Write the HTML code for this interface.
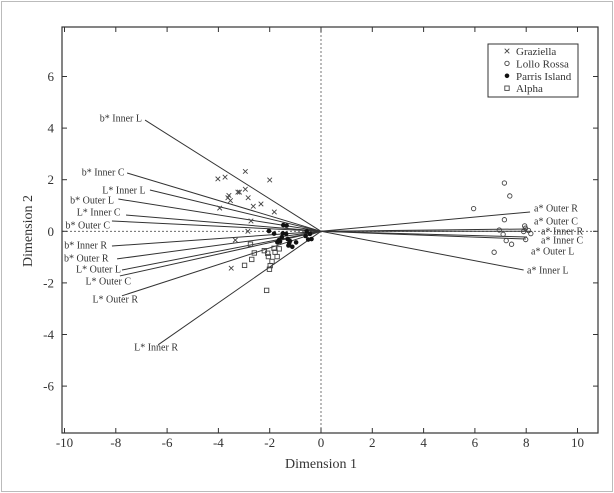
<!DOCTYPE html>
<html><head><meta charset="utf-8"><style>
html,body{margin:0;padding:0;background:#fff;}
svg{display:block;font-family:"Liberation Serif",serif;}
</style></head><body>
<svg id="chart" width="614" height="493" viewBox="0 0 614 493">
<rect x="1.5" y="1.5" width="611" height="490" fill="#fff" stroke="#bbb"/>
<g id="layer"></g>
</svg>
<script>
const xTicks=[-10,-8,-6,-4,-2,0,2,4,6,8,10];
const yTicks=[-6,-4,-2,0,2,4,6];
const vecNames=["b* Inner L","b* Inner C","L* Inner L","b* Outer L","L* Inner C","b* Outer C","b* Inner R","b* Outer R","L* Outer L","L* Outer C","L* Outer R","L* Inner R","a* Outer R","a* Outer C","a* Inner R","a* Inner C","a* Outer L","a* Inner L"];
const vecX=[-6.86,-7.56,-6.67,-7.9,-7.6,-8.15,-8.15,-7.95,-7.76,-7.84,-7.76,-6.35,8.15,8.03,8.15,8.03,7.99,7.9];
const vecY=[4.31,2.26,1.6,1.25,0.63,0.4,-0.57,-1.07,-1.5,-1.73,-2.5,-4.4,0.75,0.09,0,-0.22,-0.3,-1.5];
// label placement (layout, pixels): anchor x and vertical centre
const labelPX=[142,124.5,145.6,114,120.6,110,107,108.5,121,131,138,178,534,534,541,541,531,527];
const labelPY=[118,172,190,200,212,225,245,258,269,281,299,347,208,221,231,240,251,270];
const grazX=[-4.02,-3.74,-2.95,-2.0,-3.59,-3.63,-3.53,-3.24,-3.18,-2.95,-2.84,-2.34,-2.64,-1.82,-3.95,-2.73,-2.85,-3.34,-3.5];
const grazY=[2.03,2.1,2.32,1.99,1.39,1.3,1.19,1.52,1.52,1.63,1.3,1.06,0.97,0.75,0.9,0.4,0,-0.34,-1.43];
const lolloX=[7.15,7.36,5.95,7.15,6.95,7.1,7.22,7.43,6.75,7.94,7.97,7.9,8.09,8.18,7.98];
const lolloY=[1.87,1.37,0.88,0.45,0.05,-0.12,-0.36,-0.5,-0.81,0.21,0.12,-0.01,0.03,-0.09,-0.32];
const parrisX=[-1.47,-1.34,-2.03,-1.83,-1.49,-1.36,-1.53,-1.64,-1.3,-1.21,-1.7,-1.6,-1.24,-1.12,-1.27,-0.97,-0.56,-0.43,-0.37,-0.6,-0.5];
const parrisY=[0.24,0.22,0.01,-0.09,-0.08,-0.1,-0.23,-0.34,-0.3,-0.38,-0.43,-0.4,-0.47,-0.6,-0.55,-0.43,0,-0.1,-0.3,-0.18,-0.32];
const alphaX=[-2.75,-2.6,-2.98,-2.7,-2.21,-2.08,-2.05,-1.83,-1.79,-1.63,-1.71,-1.91,-1.98,-2.01,-2.12];
const alphaY=[-0.5,-0.84,-1.32,-1.09,-0.75,-0.85,-0.98,-0.66,-0.81,-0.68,-0.98,-1.17,-1.33,-1.47,-2.29];
const legendLabels=["Graziella","Lollo Rossa","Parris Island","Alpha"];

const L=62,R=598,T=27,B=433;
function sx(v){return 321+v*25.65;}
function sy(v){return 231.3-v*25.8;}
const NS="http://www.w3.org/2000/svg";
const g=document.getElementById("layer");
function mk(tag,attrs,parent){const e=document.createElementNS(NS,tag);for(const k in attrs)e.setAttribute(k,attrs[k]);(parent||g).appendChild(e);return e;}

let fr=mk("rect",{x:L,y:T,width:R-L,height:B-T,fill:"none",stroke:"#333","stroke-width":1.2});


let zx=mk("line",{x1:sx(0),x2:sx(0),y1:T,y2:B,stroke:"#555","stroke-dasharray":"2,2","stroke-width":0.8});


let zy=mk("line",{x1:L,x2:R,y1:sy(0),y2:sy(0),stroke:"#555","stroke-dasharray":"2,2","stroke-width":0.8});



xTicks.forEach(v=>{
 const x=sx(v);
 let t1=mk("line",{x1:x,x2:x,y1:B,y2:B-5,stroke:"#333"});
 
 
 let t2=mk("line",{x1:x,x2:x,y1:T,y2:T+5,stroke:"#333"});
 
 
 let tx=mk("text",{x:x,y:447,"text-anchor":"middle","font-size":13,fill:"#333"});
 tx.textContent=String(v);
 
 
});
yTicks.forEach(v=>{
 const y=sy(v);
 let t1=mk("line",{x1:L,x2:L+5,y1:y,y2:y,stroke:"#333"});
 
 
 let t2=mk("line",{x1:R,x2:R-5,y1:y,y2:y,stroke:"#333"});
 
 
 let tx=mk("text",{x:54,y:y+4.5,"text-anchor":"end","font-size":13,fill:"#333"});
 tx.textContent=String(v);
 
 
});

vecNames.forEach((n,i)=>{
 const x=sx(vecX[i]),y=sy(vecY[i]);
 let ln=mk("line",{x1:sx(0),y1:sy(0),x2:x,y2:y,stroke:"#333","stroke-width":1});
 
 
 const left=vecX[i]<0;
 let tx=mk("text",{x:labelPX[i],y:labelPY[i]+3.5,"text-anchor":left?"end":"start","font-size":10,fill:"#333"});
 tx.textContent=n;
 
 
});

function cross(x,y){return mk("path",{d:`M${x-2.3},${y-2.3}L${x+2.3},${y+2.3}M${x-2.3},${y+2.3}L${x+2.3},${y-2.3}`,stroke:"#444","stroke-width":0.9,fill:"none"});}
function circ(x,y){return mk("circle",{cx:x,cy:y,r:2.2,fill:"none",stroke:"#444","stroke-width":0.9});}
function dot(x,y){return mk("circle",{cx:x,cy:y,r:2.3,fill:"#111"});}
function sq(x,y){return mk("rect",{x:x-2.2,y:y-2.2,width:4.4,height:4.4,fill:"none",stroke:"#444","stroke-width":0.9});}

grazX.forEach((v,i)=>{const e=cross(sx(v),sy(grazY[i]));
 
 });
lolloX.forEach((v,i)=>{const e=circ(sx(v),sy(lolloY[i]));
 
 });
parrisX.forEach((v,i)=>{const e=dot(sx(v),sy(parrisY[i]));
 
 });
alphaX.forEach((v,i)=>{const e=sq(sx(v),sy(alphaY[i]));
 
 });

let lb=mk("rect",{x:488,y:44,width:90,height:53,fill:"#fff",stroke:"#333","stroke-width":1});


const fns=[cross,circ,dot,sq];
legendLabels.forEach((n,i)=>{
 const y=51+i*12.4;
 const m=fns[i](507,y);
 
 
 let tx=mk("text",{x:516,y:y+4,"font-size":11,fill:"#333"});
 tx.textContent=n;
 
 
});

let xt=mk("text",{x:321,y:468,"text-anchor":"middle","font-size":14,fill:"#333"});
xt.textContent="Dimension 1";


let yt=mk("text",{x:0,y:0,"text-anchor":"middle","font-size":14,fill:"#333",transform:"translate(32,231) rotate(-90)"});
yt.textContent="Dimension 2";


</script>
</body></html>
